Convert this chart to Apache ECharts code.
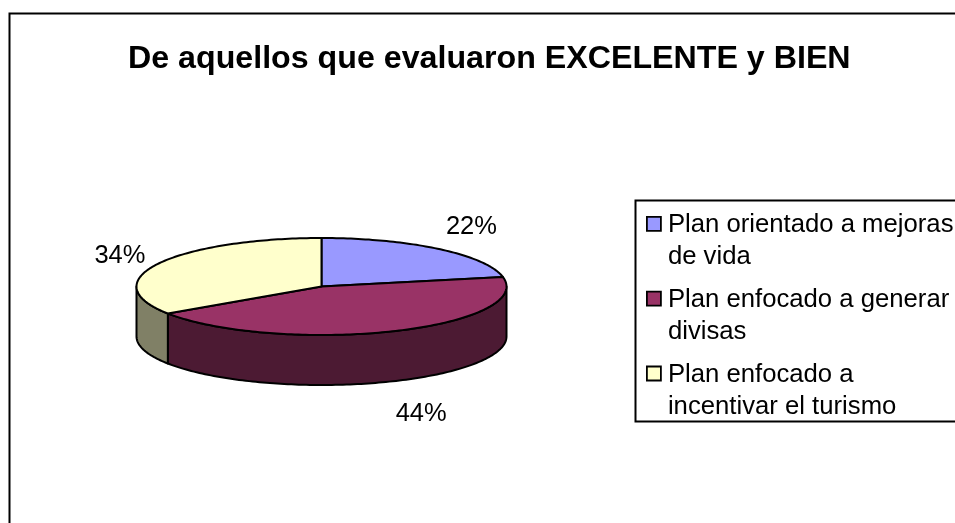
<!DOCTYPE html>
<html><head><meta charset="utf-8">
<style>html,body{margin:0;padding:0;background:#fff}#c{width:955px;height:523px}</style>
<script src="https://cdn.jsdelivr.net/npm/echarts@6/dist/echarts.min.js"></script>
</head><body><div id="c"></div>
<script>
const titleText = 'De aquellos que evaluaron EXCELENTE y BIEN';
const categories = ['Plan orientado a mejoras\nde vida', 'Plan enfocado a generar\ndivisas', 'Plan enfocado a\nincentivar el turismo'];
const values = [21.9, 43.7, 34.4];
const topColors = ['#9999FF', '#993366', '#FFFFCC'];
const wallColors = ['#4D4D80', '#4C1A33', '#808066'];
const labelNudges = [[2, -2], [10.5, 9], [4, 5]];

const FONT = '"Liberation Sans", Arial, sans-serif';
const cx = 321.5, cy = 286.5, rx = 185, ry = 48.5, depth = 50;
const total = values.reduce((a, b) => a + b, 0);
const pt = (t, dy) => [cx + rx * Math.sin(t), cy - ry * Math.cos(t) + (dy || 0)];
function arc(t0, t1, dy) {
  const n = Math.max(2, Math.ceil(Math.abs(t1 - t0) / 0.02)), out = [];
  for (let i = 0; i <= n; i++) out.push(pt(t0 + (t1 - t0) * i / n, dy));
  return out;
}
const stroke = { stroke: '#000', lineWidth: 2, lineJoin: 'round' };
const starts = values.map((v, i) => values.slice(0, i).reduce((a, b) => a + b, 0));

function makeRender(i) {
  return function (params, api) {
    const v = api.value(0);
    const t0 = starts[i] / total * 2 * Math.PI;
    const t1 = t0 + v / total * 2 * Math.PI;
    const children = [];
    const w0 = Math.max(t0, Math.PI / 2), w1 = Math.min(t1, 3 * Math.PI / 2);
    if (w1 > w0) {
      children.push({ type: 'polygon', shape: { points: arc(w0, w1, 0).concat(arc(w1, w0, depth)) },
        style: Object.assign({ fill: wallColors[i] }, stroke) });
    }
    children.push({ type: 'polygon', shape: { points: [[cx, cy]].concat(arc(t0, t1, 0)) },
      style: Object.assign({ fill: topColors[i] }, stroke) });
    const mid = (t0 + t1) / 2;
    const below = Math.cos(mid) < 0 ? depth : 0;
    children.push({ type: 'text', z2: 10, style: {
      text: Math.round(v / total * 100) + '%',
      x: cx + (rx + 48) * Math.sin(mid) + labelNudges[i][0],
      y: cy - (ry + 26) * Math.cos(mid) + below + labelNudges[i][1],
      align: 'center', verticalAlign: 'middle', fill: '#000',
      font: '25.5px ' + FONT } });
    return { type: 'group', children };
  };
}

const legendIcon = 'path://M1 8L15 8L15 22L1 22ZM0 0L0 0ZM17 64L17 64Z';
const chart = echarts.init(document.getElementById('c'), null, { renderer: 'canvas' });
chart.setOption({
  animation: false,
  backgroundColor: '#fff',
  title: { text: titleText, left: 123, top: 38,
    textStyle: { fontFamily: FONT, fontSize: 32.2, fontWeight: 'bold', color: '#000' } },
  legend: {
    orient: 'vertical', left: 635, top: 200, padding: [8, 30, 0, 10],
    data: categories, itemWidth: 17, itemHeight: 64, itemGap: 9,
    icon: legendIcon, symbolKeepAspect: false, selectedMode: false,
    itemStyle: { borderColor: '#000', borderWidth: 1.8 },
    textStyle: { fontFamily: FONT, fontSize: 25.7, lineHeight: 32, color: '#000' }
  },
  graphic: [
    { type: 'rect', z: -1, silent: true,
      shape: { x: 9.5, y: 13.5, width: 1000, height: 600 },
      style: { fill: '#fff', stroke: '#000', lineWidth: 2 } },
    { type: 'rect', z: -1, silent: true,
      shape: { x: 635.5, y: 200.5, width: 400, height: 221 },
      style: { fill: '#fff', stroke: '#000', lineWidth: 2 } }
  ],
  series: categories.map((name, i) => ({
    type: 'custom', name, coordinateSystem: 'none', silent: true,
    color: topColors[i], itemStyle: { color: topColors[i] },
    z: 2, data: [[values[i]]], renderItem: makeRender(i)
  }))
});
</script></body></html>
